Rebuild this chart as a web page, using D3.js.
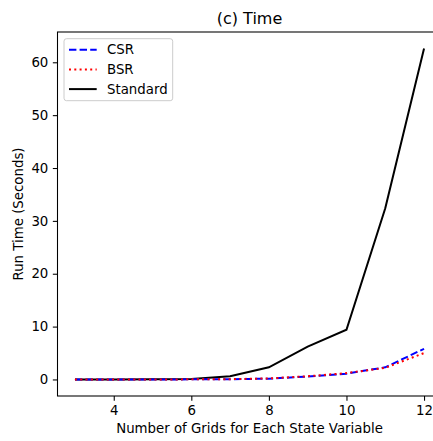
<!DOCTYPE html>
<html>
<head>
<meta charset="utf-8">
<script src="https://cdn.jsdelivr.net/npm/d3@7"></script>
<style>
  body { margin: 0; background: #fff; }
  svg { display: block; font-family: "DejaVu Sans", sans-serif; }
</style>
</head>
<body>
<div id="chart"></div>
<script>
// grid sizes and run times (seconds)
const grids = [3, 4, 5, 6, 7, 8, 9, 10, 11, 12];
const csr = [0.0, 0.0, 0.0, 0.02, 0.05, 0.15, 0.55, 1.1, 2.3, 5.8];
const bsr = [0.0, 0.0, 0.0, 0.02, 0.05, 0.2, 0.6, 1.2, 2.2, 5.0];
const standard = [0.0, 0.0, 0.02, 0.1, 0.6, 2.3, 6.2, 9.4, 32.4, 62.6];
const xTicks = [4, 6, 8, 10, 12];
const yTicks = [0, 10, 20, 30, 40, 50, 60];

const W = 433, H = 441;
const margin = {top: 32, right: -8.5, bottom: 45, left: 57.5};
const width = W - margin.left - margin.right;
const height = H - margin.top - margin.bottom;
const fs = '13.33px';

const svg = d3.select('#chart')
  .append('svg')
  .attr('width', W)
  .attr('height', H);

const g = svg.append('g')
  .attr('transform', `translate(${margin.left},${margin.top})`);

const x = d3.scaleLinear().domain([2.55, 12.45]).range([0, width]);
const y = d3.scaleLinear().domain([-3.13, 65.73]).range([height, 0]);

const xAxis = g.append('g')
  .attr('transform', `translate(0,${height})`)
  .call(d3.axisBottom(x).tickValues(xTicks).tickSize(4.67).tickPadding(4.5));
const yAxis = g.append('g')
  .call(d3.axisLeft(y).tickValues(yTicks).tickSize(4.67).tickPadding(4.5));
[xAxis, yAxis].forEach(a => {
  a.selectAll('text').attr('font-size', fs).attr('fill', '#000')
    .attr('font-family', '"DejaVu Sans", sans-serif');
  a.selectAll('line').attr('stroke', '#000').attr('stroke-width', 1.07);
  a.select('.domain').remove();
});

// spines
g.append('rect')
  .attr('x', 0).attr('y', 0)
  .attr('width', width).attr('height', height)
  .attr('fill', 'none')
  .attr('stroke', '#000')
  .attr('stroke-width', 1.07);

const line = d3.line()
  .x((d, i) => x(grids[i]))
  .y(d => y(d));

const series = [
  {name: 'CSR', values: csr, color: '#0000ff', dash: '7.4,3.2'},
  {name: 'BSR', values: bsr, color: '#ff0000', dash: '2,3.3'},
  {name: 'Standard', values: standard, color: '#000000', dash: null}
];

g.selectAll('.series')
  .data([series[2], series[0], series[1]])
  .join('path')
  .attr('class', 'series')
  .attr('d', d => line(d.values))
  .attr('fill', 'none')
  .attr('stroke', d => d.color)
  .attr('stroke-width', 2)
  .attr('stroke-dasharray', d => d.dash);

// title and axis labels
svg.append('text')
  .attr('x', margin.left + width / 2)
  .attr('y', 24)
  .attr('text-anchor', 'middle')
  .attr('font-size', '16px')
  .text('(c) Time');

svg.append('text')
  .attr('x', margin.left + width / 2)
  .attr('y', 433)
  .attr('text-anchor', 'middle')
  .attr('font-size', fs)
  .text('Number of Grids for Each State Variable');

svg.append('text')
  .attr('transform', `translate(23,${margin.top + height / 2})rotate(-90)`)
  .attr('text-anchor', 'middle')
  .attr('font-size', fs)
  .text('Run Time (Seconds)');

// legend
const legend = svg.append('g').attr('transform', 'translate(64,38.7)');
legend.append('rect')
  .attr('width', 108.7).attr('height', 62)
  .attr('rx', 2.5)
  .attr('fill', '#fff').attr('fill-opacity', 0.8)
  .attr('stroke', '#ccc').attr('stroke-width', 1);

const item = legend.selectAll('.item')
  .data(series)
  .join('g')
  .attr('class', 'item')
  .attr('transform', (d, i) => `translate(0,${11 + i * 19.7})`);
item.append('line')
  .attr('x1', 5).attr('x2', 32.7)
  .attr('stroke', d => d.color)
  .attr('stroke-width', 2)
  .attr('stroke-dasharray', d => d.dash);
item.append('text')
  .attr('x', 43)
  .attr('dy', '0.35em')
  .attr('font-size', fs)
  .text(d => d.name);
</script>
</body>
</html>
